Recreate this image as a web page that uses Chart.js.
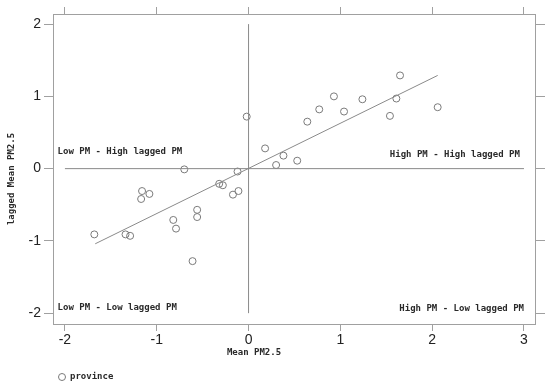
<!DOCTYPE html>
<html>
<head>
<meta charset="utf-8">
<script src="https://cdn.jsdelivr.net/npm/chart.js@4.4.1/dist/chart.umd.min.js"></script>
<style>
  html, body { margin: 0; padding: 0; background: #fff; }
  #wrap { width: 550px; height: 388px; }
</style>
</head>
<body>
<div id="wrap"><canvas id="moranChart" width="550" height="388"></canvas></div>
<script>
// Moran scatter: standardized mean PM2.5 vs spatially lagged mean
const provinceX = [-1.68, -1.34, -1.29, -1.16, -1.17, -1.08, -0.70, -0.82, -0.79, -0.56, -0.56,
                   -0.61, -0.32, -0.28, -0.17, -0.11, -0.12, -0.02, 0.18, 0.30, 0.38, 0.53,
                   0.64, 0.77, 0.93, 1.04, 1.24, 1.54, 1.61, 1.65, 2.06];
const provinceY = [-0.91, -0.91, -0.93, -0.31, -0.42, -0.35, -0.01, -0.71, -0.83, -0.57, -0.67,
                   -1.28, -0.21, -0.23, -0.36, -0.31, -0.04, 0.72, 0.28, 0.05, 0.18, 0.11,
                   0.65, 0.82, 1.00, 0.79, 0.96, 0.73, 0.97, 1.29, 0.85];

const fitX = [-1.67, 2.06];
const fitY = [-1.04, 1.29];

const vLineX = [0, 0];
const vLineY = [-2, 2];
const hLineX = [-2, 3];
const hLineY = [0, 0];

const xTicks = [-2, -1, 0, 1, 2, 3];
const yTicks = [-2, -1, 0, 1, 2];

const quadrantLabels = ['Low PM - High lagged PM', 'High PM - High lagged PM',
                        'Low PM - Low lagged PM', 'High PM - Low lagged PM'];
const quadrantX = [-2.08, 2.955, -2.08, 3.0];
const quadrantY = [0.235, 0.19, -1.92, -1.94];
const quadrantAlign = ['left', 'right', 'left', 'right'];

const xTitle = 'Mean PM2.5';
const yTitle = 'lagged Mean PM2.5';
const legendLabel = 'province';

const monoFont = '"DejaVu Sans Mono", monospace';
const pointColor = '#7a7a7a';
const lineColor = '#8a8a8a';
const boxColor = '#a0a0a0';

const toPoints = (xs, ys) => xs.map((x, i) => ({ x: x, y: ys[i] }));

const labelPlugin = {
    id: 'labelPlugin',
    afterDatasetsDraw(chart) {
        const ctx = chart.ctx;
        const xs = chart.scales.x;
        const ys = chart.scales.y;
        ctx.save();
        ctx.fillStyle = '#2a2a2a';
        ctx.font = 'bold 9px ' + monoFont;
        ctx.textBaseline = 'middle';
        quadrantLabels.forEach((txt, i) => {
            ctx.textAlign = quadrantAlign[i];
            ctx.fillText(txt, xs.getPixelForValue(quadrantX[i]), ys.getPixelForValue(quadrantY[i]));
        });
        ctx.restore();
    },
    afterDraw(chart) {
        const ctx = chart.ctx;
        ctx.save();
        ctx.fillStyle = '#2a2a2a';
        ctx.font = 'bold 9px ' + monoFont;
        ctx.textBaseline = 'middle';
        ctx.textAlign = 'center';
        ctx.fillText(xTitle, 254, 353);

        ctx.save();
        ctx.translate(12, 179);
        ctx.rotate(-Math.PI / 2);
        ctx.fillText(yTitle, 0, 0);
        ctx.restore();

        // legend
        ctx.strokeStyle = pointColor;
        ctx.lineWidth = 1;
        ctx.beginPath();
        ctx.arc(62, 377, 3.5, 0, Math.PI * 2);
        ctx.stroke();
        ctx.textAlign = 'left';
        ctx.fillText(legendLabel, 70, 377);
        ctx.restore();
    }
};

const axisCommon = {
    type: 'linear',
    border: { display: true, color: boxColor, width: 1 },
};

new Chart(document.getElementById('moranChart').getContext('2d'), {
    type: 'scatter',
    data: {
        datasets: [
            {
                label: 'vline',
                data: toPoints(vLineX, vLineY),
                showLine: true,
                borderColor: lineColor,
                borderWidth: 1,
                pointRadius: 0
            },
            {
                label: 'hline',
                data: toPoints(hLineX, hLineY),
                showLine: true,
                borderColor: lineColor,
                borderWidth: 1,
                pointRadius: 0
            },
            {
                label: 'fit',
                data: toPoints(fitX, fitY),
                showLine: true,
                borderColor: lineColor,
                borderWidth: 1,
                pointRadius: 0
            },
            {
                label: legendLabel,
                data: toPoints(provinceX, provinceY),
                pointStyle: 'circle',
                pointRadius: 3.5,
                pointBorderWidth: 1,
                pointBorderColor: pointColor,
                pointBackgroundColor: 'rgba(0,0,0,0)',
                pointHoverRadius: 3.5
            }
        ]
    },
    options: {
        responsive: false,
        animation: false,
        devicePixelRatio: 1,
        layout: { padding: 0 },
        plugins: {
            legend: { display: false },
            tooltip: { enabled: false }
        },
        scales: {
            x: Object.assign({}, axisCommon, {
                position: 'bottom',
                min: -2.13, max: 3.12,
                afterBuildTicks: s => { s.ticks = xTicks.map(v => ({ value: v })); },
                afterFit: s => { s.height = 64; },
                grid: { drawOnChartArea: false, drawTicks: true, tickLength: 7, color: boxColor },
                ticks: { padding: 1, color: '#222', font: { family: '"Liberation Sans", Arial', size: 14 } }
            }),
            x2: Object.assign({}, axisCommon, {
                position: 'top',
                min: -2.13, max: 3.12,
                afterBuildTicks: s => { s.ticks = xTicks.map(v => ({ value: v })); },
                afterFit: s => { s.height = 14; },
                grid: { drawOnChartArea: false, drawTicks: true, tickLength: 7, color: boxColor },
                ticks: { display: false }
            }),
            y: Object.assign({}, axisCommon, {
                position: 'left',
                min: -2.15, max: 2.14,
                afterBuildTicks: s => { s.ticks = yTicks.map(v => ({ value: v })); },
                afterFit: s => { s.width = 53; },
                grid: { drawOnChartArea: false, drawTicks: true, tickLength: 9, color: boxColor },
                ticks: { padding: 3, color: '#222', font: { family: '"Liberation Sans", Arial', size: 14 } }
            }),
            y2: Object.assign({}, axisCommon, {
                position: 'right',
                min: -2.15, max: 2.14,
                afterBuildTicks: s => { s.ticks = yTicks.map(v => ({ value: v })); },
                afterFit: s => { s.width = 15; },
                grid: { drawOnChartArea: false, drawTicks: true, tickLength: 10, color: boxColor },
                ticks: { display: false }
            })
        }
    },
    plugins: [labelPlugin]
});
</script>
</body>
</html>
